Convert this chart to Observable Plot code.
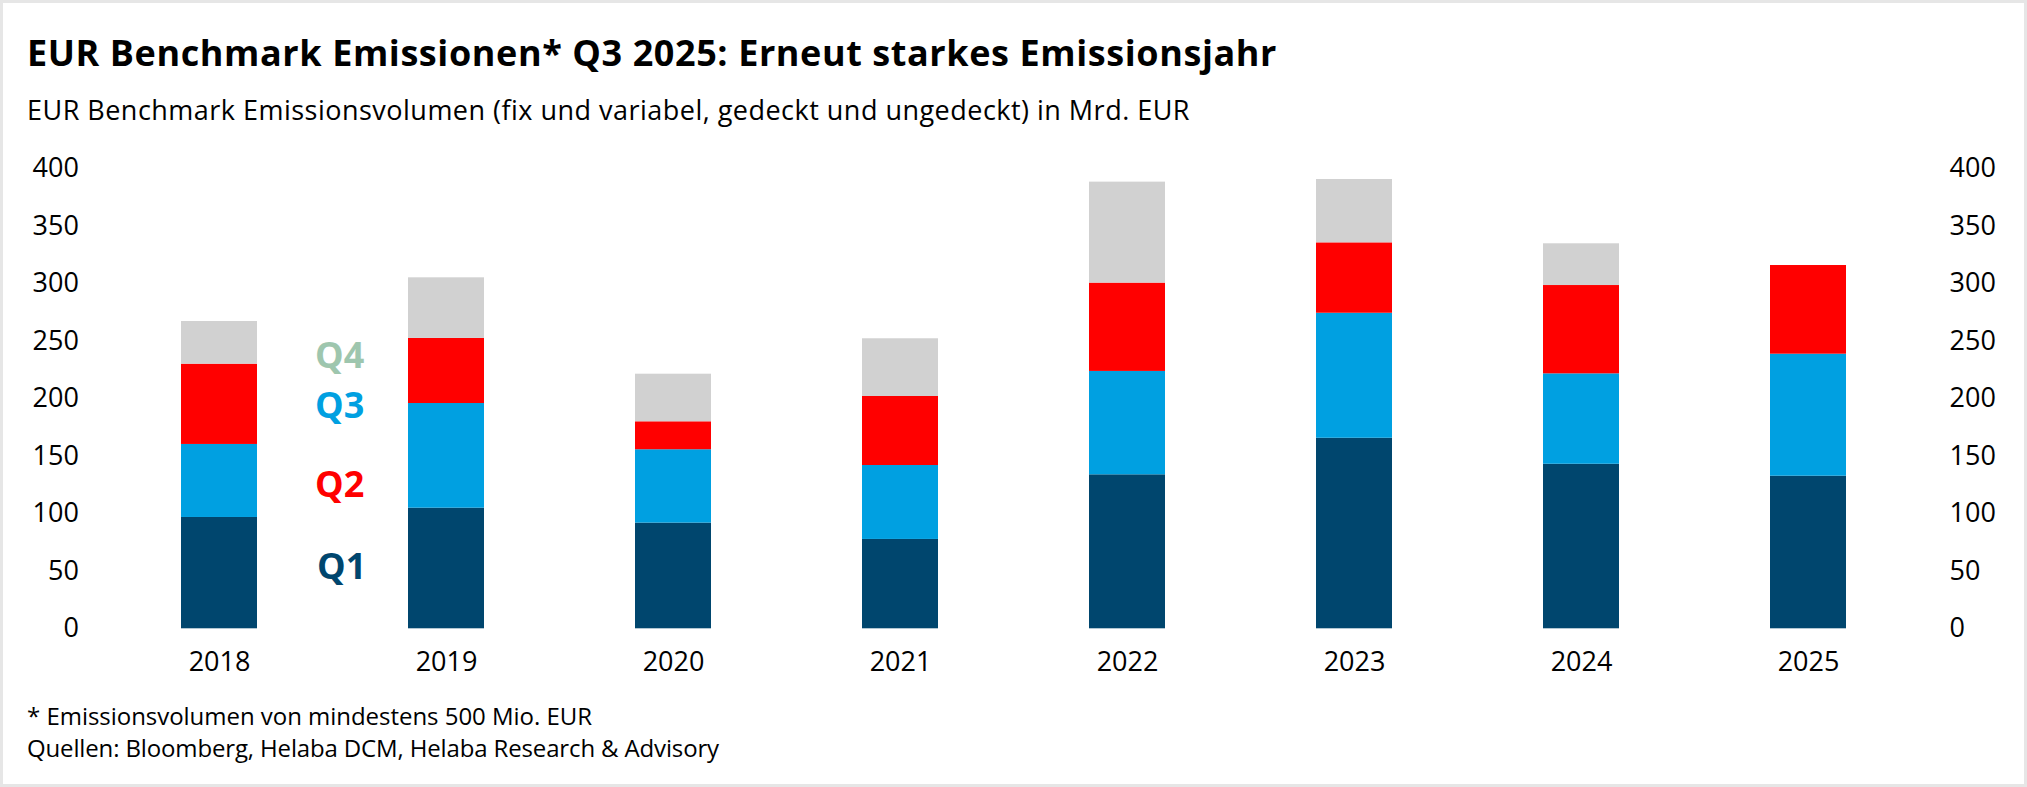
<!DOCTYPE html>
<html>
<head>
<meta charset="utf-8">
<script src="https://cdn.jsdelivr.net/npm/d3@7"></script>
<script src="https://cdn.jsdelivr.net/npm/@observablehq/plot@0.6"></script>
<style>
  html, body { margin: 0; padding: 0; background: #fff; }
  #wrap { position: relative; width: 2027px; height: 787px; overflow: hidden; background: #fff; font-family: "Open Sans", "Noto Sans", sans-serif; color: #000; }
  #frame { position: absolute; left: 0; top: 0; width: 2027px; height: 787px; box-sizing: border-box; border: 3px solid #e6e6e6; pointer-events: none; z-index: 10; }
  .t { position: absolute; white-space: nowrap; line-height: 1; }
  #title { left: 27px; top: 35.3px; font-size: 36px; font-weight: 700; }
  #subtitle { left: 27px; top: 96px; font-size: 27px; }
  #note { left: 27px; top: 703.7px; font-size: 24px; }
  #source { left: 27px; top: 735.5px; font-size: 24px; }
  .leg { position: absolute; font-size: 36px; font-weight: 700; line-height: 1; white-space: nowrap; }
  #chart { position: absolute; left: 0; top: 140px; }
</style>
</head>
<body>
<div id="wrap">
  <div id="title" class="t" data-w="1250"></div>
  <div id="subtitle" class="t" data-w="1163"></div>
  <div id="chart"></div>
  <div id="legend"></div>
  <div id="note" class="t" data-w="565"></div>
  <div id="source" class="t" data-w="692"></div>
  <div id="frame"></div>
</div>
<script>
// ---- Data (Mrd. EUR) ----
const years = ["2018", "2019", "2020", "2021", "2022", "2023", "2024", "2025"];
// stacked segments from bottom to top
const seg1 = [96.8, 104.9, 91.9, 77.7, 133.9, 165.7, 143.1, 132.7];   // dark blue
const seg2 = [63.5, 91.0, 63.8, 64.3, 89.9, 108.7, 78.6, 106.1];      // light blue
const seg3 = [69.8, 56.6, 24.3, 60.0, 76.8, 61.2, 76.8, 77.1];        // red
const seg4 = [37.1, 52.7, 41.4, 50.2, 87.8, 55.1, 36.3, null];        // grey
const segNames = ["Q1", "Q2", "Q3", "Q4"];
const segColors = ["#00466e", "#00a0e1", "#ff0000", "#d1d1d1"];
const yTicks = [0, 50, 100, 150, 200, 250, 300, 350, 400];
// legend labels as shown (top to bottom) with their text colours
const legendLabels = ["Q4", "Q3", "Q2", "Q1"];
const legendColors = ["#9ec6ae", "#00a0e1", "#ff0000", "#00466e"];

const titleText = "EUR Benchmark Emissionen* Q3 2025: Erneut starkes Emissionsjahr";
const subtitleText = "EUR Benchmark Emissionsvolumen (fix und variabel, gedeckt und ungedeckt) in Mrd. EUR";
const noteText = "* Emissionsvolumen von mindestens 500 Mio. EUR";
const sourceText = "Quellen: Bloomberg, Helaba DCM, Helaba Research & Advisory";

// ---- Build table ----
const segs = [seg1, seg2, seg3, seg4];
const data = years.flatMap((yr, i) =>
  segs.map((s, k) => ({ year: yr, series: segNames[k], value: s[i] }))
      .filter(d => d.value != null)
);

const W = 2027, H = 540;
const chart = Plot.plot({
  width: W,
  height: H,
  marginLeft: 179.35,
  marginRight: W - 1847.55,
  marginTop: 28.3,
  marginBottom: 51.7,
  style: { fontFamily: "'Open Sans', 'Noto Sans', sans-serif", fontSize: "27px", color: "#000", background: "transparent", overflow: "visible" },
  x: { domain: years, paddingInner: 0.667, paddingOuter: 0, align: 0.5, axis: null },
  y: { domain: [0, 400], axis: null },
  color: { domain: segNames, range: segColors },
  marks: [
    Plot.barY(data, { x: "year", y: "value", fill: "series" }),
    Plot.axisX({ tickSize: 0, tickPadding: 23.4, fontSize: 27, label: null }),
    Plot.axisY({ anchor: "left", ticks: yTicks, tickSize: 0, tickPadding: 101, fontSize: 27, label: null }),
    Plot.axisY({ anchor: "right", ticks: yTicks, tickSize: 0, tickPadding: 101.5, fontSize: 27, label: null })
  ]
});
document.getElementById("chart").appendChild(chart);

// ---- Texts ----
document.getElementById("title").textContent = titleText;
document.getElementById("subtitle").textContent = subtitleText;
document.getElementById("note").textContent = noteText;
document.getElementById("source").textContent = sourceText;

// legend labels (overlay inside chart area)
const legTops = [337.3, 386.7, 466, 548];
const legLefts = [315, 315, 315, 317];
const legend = document.getElementById("legend");
legendLabels.forEach((lab, i) => {
  const d = document.createElement("div");
  d.className = "leg";
  d.textContent = lab;
  d.style.color = legendColors[i];
  d.style.left = legLefts[i] + "px";
  d.style.top = legTops[i] + "px";
  legend.appendChild(d);
});

// fit text widths with letter spacing
document.querySelectorAll("[data-w]").forEach(el => {
  const target = +el.dataset.w;
  const w = el.getBoundingClientRect().width;
  const n = el.textContent.length;
  el.style.letterSpacing = ((target - w) / n) + "px";
});
</script>
</body>
</html>
